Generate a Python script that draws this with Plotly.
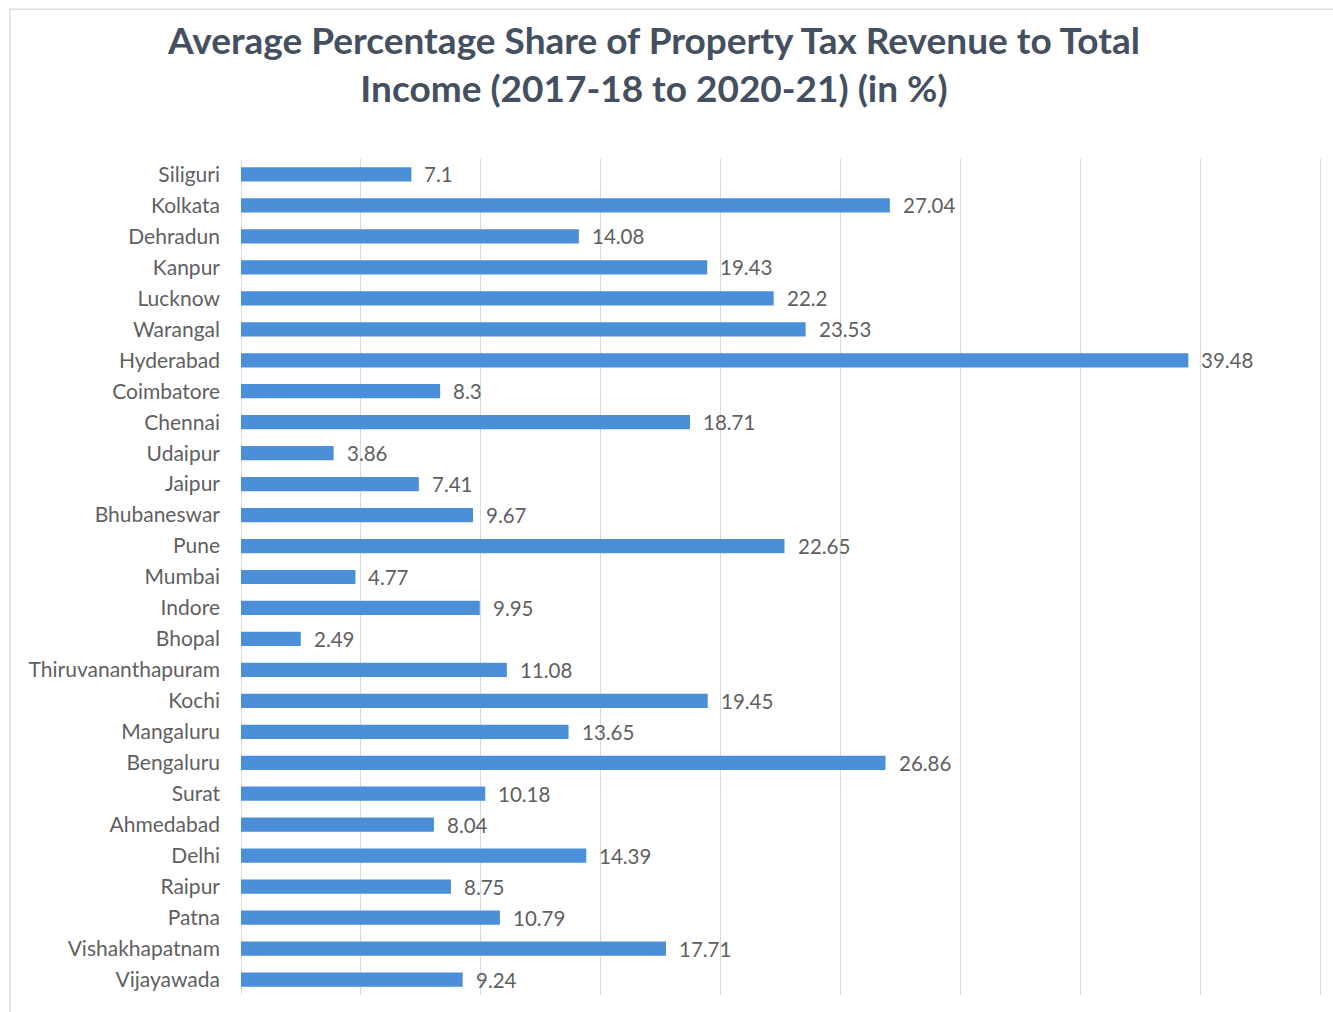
import plotly.graph_objects as go

cities = [
    "Siliguri", "Kolkata", "Dehradun", "Kanpur", "Lucknow", "Warangal",
    "Hyderabad", "Coimbatore", "Chennai", "Udaipur", "Jaipur", "Bhubaneswar",
    "Pune", "Mumbai", "Indore", "Bhopal", "Thiruvananthapuram", "Kochi",
    "Mangaluru", "Bengaluru", "Surat", "Ahmedabad", "Delhi", "Raipur",
    "Patna", "Vishakhapatnam", "Vijayawada",
]
share_pct = [
    7.1, 27.04, 14.08, 19.43, 22.2, 23.53,
    39.48, 8.3, 18.71, 3.86, 7.41, 9.67,
    22.65, 4.77, 9.95, 2.49, 11.08, 19.45,
    13.65, 26.86, 10.18, 8.04, 14.39, 8.75,
    10.79, 17.71, 9.24,
]
title_lines = [
    "Average Percentage Share of Property Tax Revenue to Total",
    "Income (2017-18 to 2020-21) (in %)",
]

BAR = "#4a8fd8"
LABEL = "#5f5f5f"
FONT = "Lato, 'Open Sans', sans-serif"

fig = go.Figure(
    go.Bar(
        x=share_pct,
        y=cities,
        orientation="h",
        width=0.46,
        marker=dict(color=BAR, line=dict(width=0)),
        hoverinfo="x+y",
    )
)

# value labels just past each bar end
for c, v in zip(cities, share_pct):
    fig.add_annotation(
        x=v, y=c, text=f"{v:g}", showarrow=False,
        xanchor="left", yanchor="middle", xshift=11,
        font=dict(family=FONT, size=20.5, color=LABEL),
    )

# light outer frame of the chart
fig.add_shape(
    type="rect", xref="paper", yref="paper",
    x0=-0.2125, x1=1.03, y0=-0.08, y1=1.179,
    line=dict(color="#dcdcdc", width=1.5), fillcolor="rgba(0,0,0,0)",
    layer="below",
)

fig.update_layout(
    width=1333,
    height=1012,
    margin=dict(l=241, r=5, t=159, b=17),
    paper_bgcolor="white",
    plot_bgcolor="white",
    showlegend=False,
    title=dict(
        text="<b>" + "<br>".join(title_lines) + "</b>",
        x=0.4906, xref="container", xanchor="center",
        y=0.947, yref="container", yanchor="middle",
        font=dict(family=FONT, size=37, color="#44505f"),
    ),
    xaxis=dict(
        range=[0, 45.3],
        tick0=0,
        dtick=5,
        showgrid=True,
        gridcolor="#d9d9d9",
        gridwidth=1,
        showticklabels=False,
        zeroline=True,
        zerolinecolor="#e3dccf",
        zerolinewidth=1,
        showline=False,
        fixedrange=True,
    ),
    yaxis=dict(
        autorange="reversed",
        showgrid=False,
        showline=False,
        ticks="",
        ticklabelstandoff=20,
        tickfont=dict(family=FONT, size=21, color=LABEL),
        fixedrange=True,
    ),
    bargap=0.5,
)

fig.write_html("out.html")
